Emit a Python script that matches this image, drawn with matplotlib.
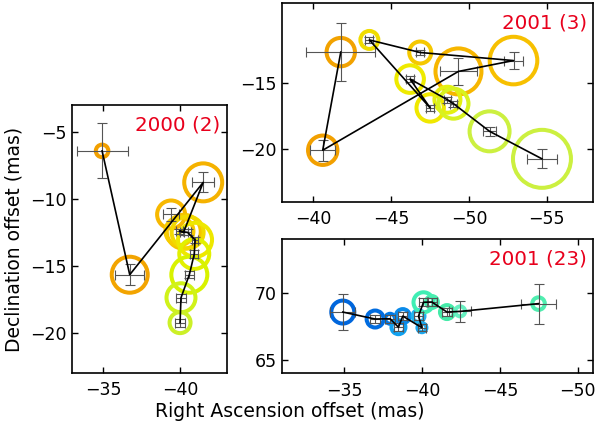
import numpy as np
import matplotlib
matplotlib.use("Agg")
import matplotlib.pyplot as plt

# ---- 2000 (2) ----
ra_a = [-34.93, -36.72, -41.48, -39.40, -40.22, -39.94, -40.47, -40.95, -40.90, -40.58, -40.04, -39.98]
de_a = [-6.43, -15.68, -8.78, -11.18, -12.47, -12.43, -12.52, -13.07, -14.13, -15.68, -17.40, -19.26]
era_a = [1.65, 0.93, 0.70, 0.50, 0.25, 0.22, 0.25, 0.22, 0.25, 0.30, 0.30, 0.35]
ede_a = [2.06, 0.80, 0.75, 0.45, 0.22, 0.20, 0.22, 0.22, 0.30, 0.25, 0.30, 0.30]
size_a = [8.3, 20, 21, 16, 19, 16, 18, 19, 17, 20, 16.5, 12.5]   # ring radius (px)
path_a = [0, 1, 2, 4, 5, 6, 7, 8, 9, 10, 11]                       # point 3 not joined

# ---- 2001 (3) ----
ra_b = [-41.76, -40.60, -49.33, -52.87, -46.87, -43.60, -47.51, -46.22, -48.62, -49.01, -51.33, -54.70]
de_b = [-12.69, -20.11, -14.15, -13.33, -12.72, -11.77, -16.91, -14.73, -16.29, -16.59, -18.68, -20.76]
era_b = [2.23, 0.80, 1.20, 0.64, 0.25, 0.25, 0.25, 0.25, 0.25, 0.25, 0.40, 0.97]
ede_b = [2.22, 0.80, 1.04, 0.65, 0.22, 0.22, 0.22, 0.22, 0.22, 0.22, 0.35, 0.72]
size_b = [16.2, 16.7, 25, 25.8, 13, 11, 15.7, 15.8, 15, 17, 22, 31]
path_b = list(range(12))

# ---- 2001 (23) ----
ra_c = [-34.89, -36.97, -37.93, -38.47, -38.75, -39.98, -39.76, -40.08, -40.62, -41.59, -42.44, -47.48]
de_c = [68.57, 68.05, 68.07, 67.44, 68.27, 67.40, 68.27, 69.30, 69.32, 68.57, 68.62, 69.20]
era_c = [0.80, 0.30, 0.35, 0.30, 0.30, 0.25, 0.30, 0.30, 0.30, 0.30, 0.70, 1.13]
ede_c = [1.35, 0.30, 0.30, 0.30, 0.30, 0.25, 0.30, 0.30, 0.30, 0.30, 0.77, 1.50]
size_c = [13.5, 10.5, 7, 9, 9, 6.5, 8, 12, 8, 9, 7, 8.3]
path_c = list(range(12))

labels = ["2000 (2)", "2001 (3)", "2001 (23)"]

# ring colours
col_a = ['#f2a000', '#f2a400', '#f5b200', '#f7b800', '#f5c400', '#f7cc00',
         '#f2da00', '#eee800', '#e2f000', '#d8f200', '#d0f21a', '#ccf028']
col_b = ['#f2a200', '#f2a000', '#f7b600', '#f7c000', '#f5c800', '#f0dc00',
         '#f0e800', '#eeea00', '#e4f010', '#d8f220', '#ccf040', '#ccf040']
col_c = ['#0066dc', '#006ce0', '#0078e6', '#12a2f0', '#0a8aea', '#1aa8f0',
         '#22b4f0', '#40eeb4', '#48eeb0', '#44eaa8', '#66f0c0', '#50eeb0']

RING_LW = 2.9  # pt


def panel(ax, ra, de, era, ede, size, col, path, label, xlim, ylim, xt, yt):
    lw_px = RING_LW * 100 / 72
    d = [(2 * r - lw_px) * 0.72 for r in size]
    ax.scatter(ra, de, s=np.array(d) ** 2, facecolors='none', edgecolors=col,
               linewidths=RING_LW, zorder=1)
    ax.errorbar(ra, de, xerr=era, yerr=ede, fmt='none', ecolor='#555555',
                elinewidth=0.8, capsize=3.6, capthick=0.8, zorder=2)
    ax.plot(np.array(ra)[path], np.array(de)[path], '-', color='black', lw=1.2, zorder=3)
    ax.set_xlim(*xlim)
    ax.set_ylim(*ylim)
    ax.set_xticks(xt)
    ax.set_yticks(yt)
    ax.tick_params(direction='in', top=True, right=True, length=4.5, width=1,
                   labelsize=12.5)
    ax.tick_params(axis='x', pad=6)
    ax.tick_params(axis='y', pad=4)
    for s in ax.spines.values():
        s.set_linewidth(1.2)
    ax.annotate(label, xy=(1, 1), xycoords='axes fraction', xytext=(-4.5, -7.5),
                textcoords='offset points', ha='right', va='top', color='#e8001c',
                fontsize=14.3)


fig = plt.figure(figsize=(6, 4.23), dpi=100)
ax1 = fig.add_axes([0.1205, 0.1189, 0.2573, 0.6329])
ax2 = fig.add_axes([0.4705, 0.5232, 0.5183, 0.4690])
ax3 = fig.add_axes([0.4705, 0.1175, 0.5183, 0.3168])

panel(ax1, ra_a, de_a, era_a, ede_a, size_a, col_a, path_a, labels[0],
      (-33, -43), (-23, -3), [-35, -40], [-5, -10, -15, -20])
panel(ax2, ra_b, de_b, era_b, ede_b, size_b, col_b, path_b, labels[1],
      (-38, -58), (-24, -9), [-40, -45, -50, -55], [-15, -20])
panel(ax3, ra_c, de_c, era_c, ede_c, size_c, col_c, path_c, labels[2],
      (-31, -51), (64, 74), [-35, -40, -45, -50], [65, 70])

fig.text(0.024, 0.435, "Declination offset (mas)", rotation=90, ha='center',
         va='center', fontsize=13.5)
fig.text(0.4825, 0.0149, "Right Ascension offset (mas)", ha='center',
         va='baseline', fontsize=13.5)

fig.savefig("out.png", dpi=100)
